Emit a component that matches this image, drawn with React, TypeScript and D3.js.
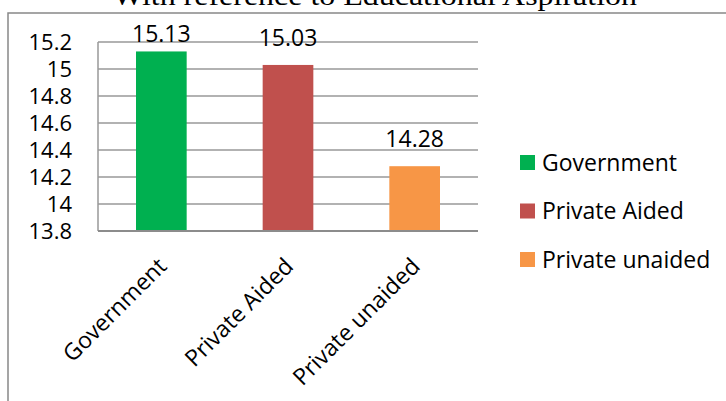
import React from "react";
import * as d3 from "d3";

const categories = ["Government", "Private Aided", "Private unaided"];
const values = [15.13, 15.03, 14.28];
const colors = ["#00B050", "#C0504D", "#F79646"];
const yTicks = [13.8, 14, 14.2, 14.4, 14.6, 14.8, 15, 15.2];
const title = "With reference to Educational Aspiration";

const W = 726;
const H = 401;
const plot = { left: 98, right: 478, top: 42, bottom: 231 };
const FONT = "'Open Sans', 'Noto Sans', sans-serif";
const FS = 23;

export default function App() {
  const x = d3
    .scaleBand<string>()
    .domain(categories)
    .range([plot.left, plot.right])
    .paddingInner(0.6)
    .paddingOuter(0.3);
  const y = d3.scaleLinear().domain([13.8, 15.2]).range([plot.bottom, plot.top]);

  return (
    <div style={{ position: "absolute", left: 0, top: 0 }}>
      <svg width={W} height={H} style={{ display: "block", background: "#fff" }}>
        <text
          x={375}
          y={5}
          textAnchor="middle"
          fontFamily="'Liberation Serif', 'DejaVu Serif', serif"
          fontSize={27}
          textLength={524}
          lengthAdjust="spacingAndGlyphs"
          fill="#000"
        >
          {title}
        </text>
        <rect x={8} y={13} width={W + 10} height={H + 10} fill="none" stroke="#888" strokeWidth={1.5} />
        {yTicks.map((t) => (
          <line
            key={t}
            x1={plot.left}
            x2={plot.right}
            y1={y(t)}
            y2={y(t)}
            stroke="#999"
            strokeWidth={1.5}
          />
        ))}
        <line x1={plot.left} x2={plot.left} y1={plot.top} y2={plot.bottom} stroke="#999" strokeWidth={1.5} />
        {yTicks.map((t) => (
          <text
            key={"l" + t}
            x={72}
            y={y(t)}
            dy="0.36em"
            textAnchor="end"
            fontFamily={FONT}
            fontSize={FS - 1}
            fill="#000"
          >
            {d3.format("~g")(t)}
          </text>
        ))}
        {categories.map((c, i) => (
          <rect
            key={c}
            x={x(c)!}
            y={y(values[i])}
            width={x.bandwidth()}
            height={plot.bottom - y(values[i])}
            fill={colors[i]}
          />
        ))}
        <line x1={plot.left} x2={plot.right} y1={plot.bottom} y2={plot.bottom} stroke="#8c8c8c" strokeWidth={2} />
        {categories.map((c, i) => (
          <text
            key={"v" + c}
            x={x(c)! + x.bandwidth() / 2}
            y={Math.max(y(values[i]) - 19, plot.top)}
            textAnchor="middle"
            fontFamily={FONT}
            fontSize={FS}
            fill="#000"
          >
            {values[i].toFixed(2)}
          </text>
        ))}
        {categories.map((c) => (
          <text
            key={"x" + c}
            transform={`translate(${x(c)! + x.bandwidth() / 2 - 5},${256}) rotate(-45)`}
            dy="0.72em"
            textAnchor="end"
            fontFamily={FONT}
            fontSize={FS}
            fill="#000"
          >
            {c}
          </text>
        ))}
        {categories.map((c, i) => {
          const cy = 162.5 + i * 48.5;
          return (
            <g key={"lg" + c}>
              <rect x={520} y={cy - 7.5} width={15} height={15} fill={colors[i]} />
              <text x={542} y={cy} dy="0.36em" fontFamily={FONT} fontSize={FS} fill="#000">
                {c}
              </text>
            </g>
          );
        })}
      </svg>
    </div>
  );
}
